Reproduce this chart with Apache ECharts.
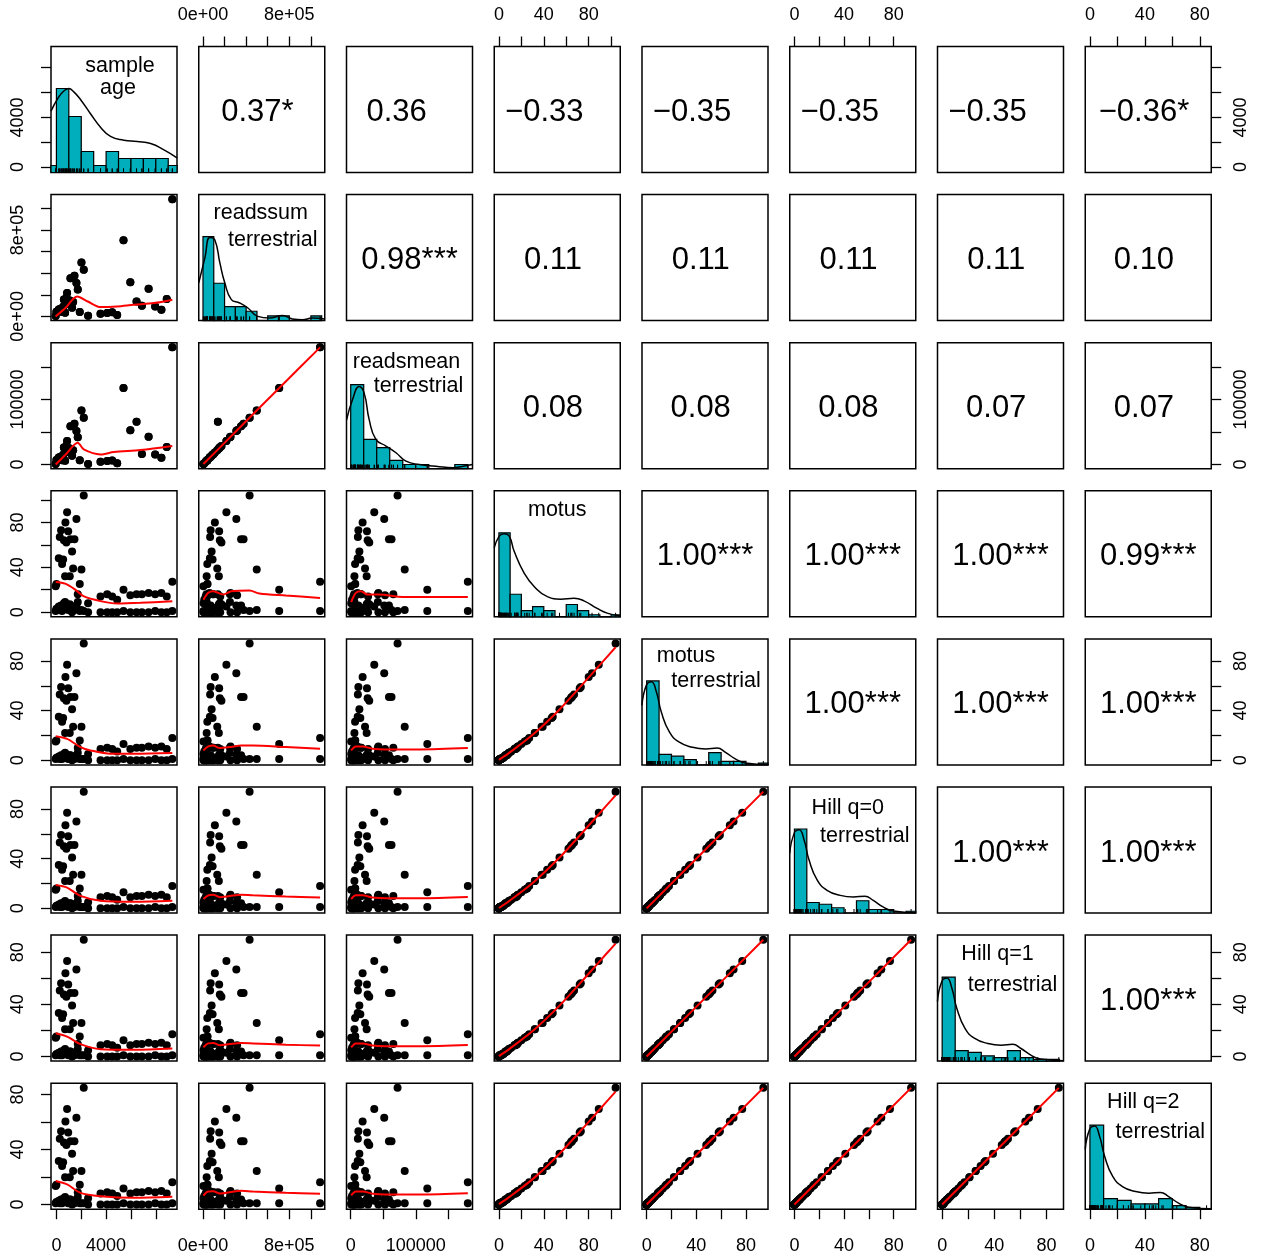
<!DOCTYPE html>
<html>
<head>
<meta charset="utf-8">
<script src="https://cdn.jsdelivr.net/npm/echarts@6/dist/echarts.min.js"></script>
<style>
  html, body { margin: 0; padding: 0; background: #ffffff; }
  #chart { width: 1265px; height: 1254px; }
</style>
</head>
<body>
<div id="chart"></div>
<script>
// ---- sample table: one row per observation ----
const sampleAge = [
  -60, 0, 190, 270, 376, 457, 540, 600, 700, 725, 800, 860, 950, 1075, 1130, 1260, 1345, 1450, 1610, 1720, 1880, 2016, 2200, 2550,
  3550, 4085, 4490, 4890, 5400, 5950, 6450, 6880, 7420, 7950, 8450, 8880, 9330,
  -60, 0, 190, 270, 376, 457, 540, 600, 700, 725, 800, 860, 950, 1075, 1130, 1260, 1345, 1450, 1610, 1720, 1880, 2016, 2200, 2550,
  3550, 4085, 4490, 4890, 5400, 5950, 6450, 6880, 7420, 7950, 8450, 8880, 9330
];
const readssumTerrestrial = [
  4000, 42000, 64000, 66000, 71000, 40000, 89000, 156000, 34000, 110000, 171000, 217000, 150000, 147000, 353000, 80000, 132000, 376000, 309000, 250000, 40000, 498000, 432000, 5000,
  25000, 32000, 38000, 12000, 706000, 316000, 138000, 98000, 255000, 92000, 61000, 160000, 1085000,
  4000, 42000, 64000, 66000, 71000, 40000, 89000, 156000, 34000, 110000, 171000, 217000, 150000, 147000, 353000, 80000, 132000, 376000, 309000, 250000, 40000, 498000, 432000, 5000,
  25000, 32000, 38000, 12000, 706000, 316000, 138000, 98000, 255000, 92000, 61000, 160000, 1085000
];
const readsmeanTerrestrial = [
  700, 7000, 10700, 11000, 11800, 6700, 14800, 26000, 5700, 18300, 28500, 36200, 25000, 24500, 58800, 13300, 22000, 62700, 51500, 41700, 6700, 83000, 72000, 830,
  4200, 5300, 6300, 2000, 117700, 52700, 65500, 16300, 42500, 15300, 10200, 26700, 180000,
  700, 7000, 10700, 11000, 11800, 6700, 14800, 26000, 5700, 18300, 28500, 36200, 25000, 24500, 58800, 13300, 22000, 62700, 51500, 41700, 6700, 83000, 72000, 830,
  4200, 5300, 6300, 2000, 117700, 52700, 65500, 16300, 42500, 15300, 10200, 26700, 180000
];
const motus = [
  23, 25, 48, 67, 73, 43, 47, 64, 32, 80, 62, 89, 72, 32, 65, 54, 39, 65, 83, 16, 25, 38, 104, 8,
  14, 16, 14, 11, 20, 15, 16, 16, 17, 16, 17, 14, 27,
  1, 3, 5, 2, 6, 1, 4, 8, 9, 3, 7, 5, 2, 7, 6, 0, 4, 2, 6, 9, 1, 2, 1, 0,
  0, 0, 0, 0, 1, 0, 0, 0, 0, 1, 0, 0, 1
];
const motusTerrestrial = [
  15, 16, 35, 53, 59, 31, 34, 50, 22, 67, 48, 77, 58, 22, 51, 41, 27, 51, 70, 10, 16, 27, 94, 5,
  9, 10, 9, 7, 13, 9, 10, 10, 11, 10, 11, 9, 18,
  1, 2, 3, 1, 4, 1, 2, 5, 6, 2, 4, 3, 1, 4, 4, 0, 2, 1, 4, 6, 1, 1, 1, 0,
  0, 0, 0, 0, 1, 0, 0, 0, 0, 1, 0, 0, 1
];
const hillQ0 = [
  15, 16, 35, 53, 59, 31, 34, 50, 22, 67, 48, 77, 58, 22, 51, 41, 27, 51, 70, 10, 16, 27, 94, 5,
  9, 10, 9, 7, 13, 9, 10, 10, 11, 10, 11, 9, 18,
  1, 2, 3, 1, 4, 1, 2, 5, 6, 2, 4, 3, 1, 4, 4, 0, 2, 1, 4, 6, 1, 1, 1, 0,
  0, 0, 0, 0, 1, 0, 0, 0, 0, 1, 0, 0, 1
];
const hillQ1 = [
  14.3, 15.2, 33.3, 50.5, 56.2, 29.5, 32.4, 47.6, 20.9, 63.8, 45.7, 73.3, 55.2, 20.9, 48.6, 39.0, 25.7, 48.6, 66.6, 9.5, 15.2, 25.7, 89.5, 4.8,
  8.6, 9.5, 8.6, 6.7, 12.4, 8.6, 9.5, 9.5, 10.5, 9.5, 10.5, 8.6, 17.1,
  1, 1.9, 2.9, 1, 3.8, 1, 1.9, 4.8, 5.7, 1.9, 3.8, 2.9, 1, 3.8, 3.8, 0, 1.9, 1, 3.8, 5.7, 1, 1, 1, 0,
  0, 0, 0, 0, 1, 0, 0, 0, 0, 1, 0, 0, 1
];
const hillQ2 = [
  13.5, 14.4, 31.6, 47.9, 53.3, 28.0, 30.7, 45.2, 19.9, 60.5, 43.3, 69.5, 52.4, 19.9, 46.1, 37.0, 24.4, 46.1, 63.2, 9.0, 14.4, 24.4, 84.9, 4.5,
  8.1, 9.0, 8.1, 6.3, 11.7, 8.1, 9.0, 9.0, 9.9, 9.0, 9.9, 8.1, 16.3,
  1, 1.8, 2.7, 1, 3.6, 1, 1.8, 4.5, 5.4, 1.8, 3.6, 2.7, 1, 3.6, 3.6, 0, 1.8, 1, 3.6, 5.4, 1, 1, 1, 0,
  0, 0, 0, 0, 1, 0, 0, 0, 0, 1, 0, 0, 1
];

// ---- variable names on the diagonal (one entry per text line) ----
const nameSampleAge = ['sample', 'age'];
const nameReadssum = ['readssum', 'terrestrial'];
const nameReadsmean = ['readsmean', 'terrestrial'];
const nameMotus = ['motus'];
const nameMotusTerrestrial = ['motus', 'terrestrial'];
const nameHill0 = ['Hill q=0', 'terrestrial'];
const nameHill1 = ['Hill q=1', 'terrestrial'];
const nameHill2 = ['Hill q=2', 'terrestrial'];

// ---- correlation coefficients with significance stars (upper triangle, by row) ----
const corrRow1 = ['0.37* ', '0.36   ', '\u22120.33   ', '\u22120.35   ', '\u22120.35   ', '\u22120.35   ', '\u22120.36* '];
const corrRow2 = ['0.98***', '0.11 ', '0.11 ', '0.11 ', '0.11 ', '0.10 '];
const corrRow3 = ['0.08 ', '0.08 ', '0.08 ', '0.07 ', '0.07 '];
const corrRow4 = ['1.00***', '1.00***', '1.00***', '0.99***'];
const corrRow5 = ['1.00***', '1.00***', '1.00***'];
const corrRow6 = ['1.00***', '1.00***'];
const corrRow7 = ['1.00***'];

// ---- axis ticks and labelled ticks ----
const ageTicks = [0, 2000, 4000, 6000, 8000];
const ageLabelValues = [0, 4000];
const ageLabelTexts = ['0', '4000'];
const readssumTicks = [0, 200000, 400000, 600000, 800000, 1000000];
const readssumLabelValues = [0, 800000];
const readssumLabelTexts = ['0e+00', '8e+05'];
const readsmeanTicks = [0, 50000, 100000, 150000];
const readsmeanLabelValues = [0, 100000];
const readsmeanLabelTexts = ['0', '100000'];
const motusTicks = [0, 20, 40, 60, 80, 100];
const diversityTicks = [0, 20, 40, 60, 80];
const diversityLabelValues = [0, 40, 80];
const diversityLabelTexts = ['0', '40', '80'];

// ---- histogram counts (first break, bin width, counts per bin) ----
const ageHistStart = -1000, ageHistWidth = 1000;
const ageHistCounts = [2, 24, 16, 6, 2, 6, 4, 4, 4, 4, 2];
const readssumHistStart = 0, readssumHistWidth = 100000;
const readssumHistCounts = [36, 16, 6, 6, 4, 0, 2, 2, 0, 0, 2];
const readsmeanHistStart = 0, readsmeanHistWidth = 20000;
const readsmeanHistCounts = [40, 14, 10, 4, 2, 2, 0, 0, 2];
const motusHistStart = 0, motusHistWidth = 10;
const motusHistCounts = [41, 11, 3, 5, 3, 0, 6, 3, 1, 0, 1];
const motusTHistCounts = [48, 6, 5, 3, 0, 7, 2, 2, 0, 1];
const hill0HistCounts = [48, 6, 5, 3, 0, 7, 2, 2, 0, 1];
const hill1HistCounts = [48, 6, 5, 3, 2, 6, 2, 1, 1];
const hill2HistCounts = [48, 6, 5, 3, 3, 6, 2, 1, 0];

// ---- kernel density curves, scaled so the peak is 1 ----
const ageDensity = [[-436, 0.73], [188, 0.90], [600, 0.97], [995, 1.0], [1400, 0.96], [1935, 0.87], [2742, 0.70], [3548, 0.54], [4355, 0.43], [5430, 0.385], [6505, 0.37], [7580, 0.345], [8656, 0.27], [9706, 0.175]];
const readssumDensity = [[-39000, 0.45], [18000, 0.75], [64000, 0.99], [110000, 0.96], [156000, 0.69], [202000, 0.45], [263000, 0.25], [340000, 0.21], [416000, 0.15], [508000, 0.05], [615000, 0.03], [737000, 0.06], [829000, 0.02], [920000, 0.01], [1013000, 0.03], [1128000, 0.02]];
const readsmeanDensity = [[-6400, 0.58], [2700, 0.82], [13000, 0.98], [20700, 0.90], [28400, 0.585], [38700, 0.35], [54200, 0.27], [69600, 0.19], [85000, 0.09], [105600, 0.05], [131000, 0.03], [157000, 0.01], [172500, 0.03], [187000, 0.05]];
const motusDensity = [[-4.2, 0.82], [0.3, 0.96], [4.7, 0.99], [9.2, 0.96], [13.6, 0.78], [22.5, 0.52], [31.4, 0.36], [43.2, 0.24], [55, 0.21], [66.9, 0.22], [75.8, 0.19], [87.6, 0.10], [96.5, 0.044], [108, 0.01]];
const motusTDensity = [[-3.8, 0.71], [-0.2, 0.95], [3.8, 0.99], [7.8, 0.87], [11.8, 0.63], [18.4, 0.39], [26.3, 0.27], [36.9, 0.21], [47.5, 0.19], [56.8, 0.20], [63.5, 0.15], [71.4, 0.072], [79.4, 0.024], [98, 0.004]];
const hill0Density = [[-3.8, 0.71], [-0.2, 0.95], [3.8, 0.99], [7.8, 0.87], [11.8, 0.63], [18.4, 0.39], [26.3, 0.27], [36.9, 0.21], [47.5, 0.19], [56.8, 0.20], [63.5, 0.15], [71.4, 0.072], [79.4, 0.024], [98, 0.004]];
const hill1Density = [[-3.6, 0.71], [-0.2, 0.95], [3.6, 0.99], [7.4, 0.87], [11.2, 0.63], [17.5, 0.39], [25.0, 0.27], [35.1, 0.21], [45.2, 0.19], [54.1, 0.20], [60.5, 0.15], [68.0, 0.072], [75.6, 0.024], [93, 0.004]];
const hill2Density = [[-3.4, 0.71], [-0.2, 0.95], [3.4, 0.99], [7.0, 0.87], [10.7, 0.63], [16.6, 0.39], [23.7, 0.27], [33.3, 0.21], [42.9, 0.19], [51.3, 0.20], [57.3, 0.15], [64.5, 0.072], [71.7, 0.024], [88, 0.004]];

// ---- lowess smoothers for the lower panels ----
const smoothAgeReadssum = [[-60, 0], [726, 77000], [1667, 184000], [2527, 138000], [3548, 86000], [4892, 92000], [6236, 108000], [7849, 123000], [9330, 154000]];
const smoothAgeReadsmean = [[-60, 0], [726, 15000], [1720, 33500], [2200, 23200], [3548, 15500], [4624, 19100], [6774, 22200], [9330, 28400]];
const smoothAgeMotus = [[-60, 26.9], [700, 25.4], [1505, 20.1], [2177, 14.2], [3548, 9.8], [4892, 7.7], [6774, 8.3], [9330, 9.8]];
const smoothAgeMotusT = [[-60, 19.3], [860, 17.2], [1935, 10.6], [2742, 7.9], [4355, 5.3], [6237, 5.3], [9330, 5.9]];
const smoothAgeHill0 = [[-60, 18.8], [860, 16.7], [1935, 10.0], [3548, 6.1], [6237, 5.3], [9330, 6.1]];
const smoothAgeHill1 = [[-60, 17.8], [860, 15.2], [1935, 9.4], [3548, 5.6], [6237, 5.1], [9330, 6.1]];
const smoothAgeHill2 = [[-60, 17.1], [860, 14.6], [1935, 8.5], [3548, 6.1], [6237, 4.9], [9330, 5.6]];
const smoothReadssumReadsmean = [[4000, 700], [300000, 50000], [700000, 116500], [1085000, 180000]];
const smoothReadssumMotus = [[4000, 11], [49000, 17.2], [95000, 18.6], [187000, 15.7], [263000, 18.6], [431000, 19.2], [523000, 16.6], [768000, 14.8], [1085000, 12.7]];
const smoothReadssumMotusT = [[4000, 7.9], [49000, 11.1], [95000, 11.9], [156000, 9.8], [248000, 10.6], [355000, 11.9], [462000, 11.9], [768000, 10.6], [1085000, 9.3]];
const smoothReadssumHill0 = [[4000, 7.5], [49000, 10.5], [95000, 11.0], [156000, 9.0], [248000, 10.0], [355000, 11.0], [462000, 10.5], [768000, 9.5], [1085000, 8.8]];
const smoothReadssumHill1 = [[4000, 7.0], [49000, 10.0], [95000, 10.3], [156000, 8.5], [248000, 9.5], [355000, 10.3], [462000, 10.0], [768000, 9.0], [1085000, 8.3]];
const smoothReadssumHill2 = [[4000, 6.5], [49000, 9.5], [95000, 9.6], [156000, 8.0], [248000, 9.0], [355000, 10.0], [462000, 9.5], [768000, 8.5], [1085000, 7.8]];
const smoothReadsmeanMotus = [[700, 8.9], [7900, 17.2], [15600, 18.6], [25900, 15.7], [43900, 15.7], [80000, 13.6], [131000, 13.6], [180000, 13.6]];
const smoothReadsmeanMotusT = [[700, 7.9], [7900, 11.1], [18200, 11.1], [33600, 9.3], [54200, 8.7], [105600, 8.7], [180000, 9.8]];
const smoothReadsmeanHill0 = [[700, 7.5], [7900, 10.5], [18200, 10.5], [33600, 8.8], [54200, 8.2], [105600, 8.2], [180000, 9.2]];
const smoothReadsmeanHill1 = [[700, 7.0], [7900, 10.0], [18200, 10.0], [33600, 8.3], [54200, 7.8], [105600, 7.8], [180000, 8.7]];
const smoothReadsmeanHill2 = [[700, 6.6], [7900, 9.4], [18200, 9.5], [33600, 7.9], [54200, 7.3], [105600, 7.3], [180000, 8.2]];
const smoothMotusMotusT = [[0, 0.3], [10, 6.5], [31.4, 21.5], [53.6, 40.5], [72.9, 59.5], [89.2, 76], [104, 91]];
const smoothMotusHill0 = [[0, 0.3], [10, 6.5], [31.4, 21.5], [53.6, 40.5], [72.9, 59.5], [89.2, 76], [104, 91]];
const smoothMotusHill1 = [[0, 0.3], [10, 6.2], [31.4, 20.5], [53.6, 38.6], [72.9, 56.6], [89.2, 72.4], [104, 86.6]];
const smoothMotusHill2 = [[0, 0.3], [10, 5.9], [31.4, 19.4], [53.6, 36.6], [72.9, 53.7], [89.2, 68.6], [104, 82.2]];
const smoothMotusTHill0 = [[0, 0], [47, 47], [94, 94]];
const smoothMotusTHill1 = [[0, 0], [47, 44.7], [94, 89.5]];
const smoothMotusTHill2 = [[0, 0], [47, 42.4], [94, 84.9]];
const smoothHill0Hill1 = [[0, 0], [47, 44.7], [94, 89.5]];
const smoothHill0Hill2 = [[0, 0], [47, 42.4], [94, 84.9]];
const smoothHill1Hill2 = [[0, 0], [44.7, 42.4], [89.5, 84.9]];

// ---- assemble the panel tables ----
const variables = [sampleAge, readssumTerrestrial, readsmeanTerrestrial, motus, motusTerrestrial, hillQ0, hillQ1, hillQ2];
const names = [nameSampleAge, nameReadssum, nameReadsmean, nameMotus, nameMotusTerrestrial, nameHill0, nameHill1, nameHill2];
const corrRows = [corrRow1, corrRow2, corrRow3, corrRow4, corrRow5, corrRow6, corrRow7];
const tickSets = [ageTicks, readssumTicks, readsmeanTicks, motusTicks, diversityTicks, diversityTicks, diversityTicks, diversityTicks];
const labelValueSets = [ageLabelValues, readssumLabelValues, readsmeanLabelValues, diversityLabelValues, diversityLabelValues, diversityLabelValues, diversityLabelValues, diversityLabelValues];
const labelTextSets = [ageLabelTexts, readssumLabelTexts, readsmeanLabelTexts, diversityLabelTexts, diversityLabelTexts, diversityLabelTexts, diversityLabelTexts, diversityLabelTexts];
const histStarts = [ageHistStart, readssumHistStart, readsmeanHistStart, motusHistStart, motusHistStart, motusHistStart, motusHistStart, motusHistStart];
const histWidths = [ageHistWidth, readssumHistWidth, readsmeanHistWidth, motusHistWidth, motusHistWidth, motusHistWidth, motusHistWidth, motusHistWidth];
const histCounts = [ageHistCounts, readssumHistCounts, readsmeanHistCounts, motusHistCounts, motusTHistCounts, hill0HistCounts, hill1HistCounts, hill2HistCounts];
const densities = [ageDensity, readssumDensity, readsmeanDensity, motusDensity, motusTDensity, hill0Density, hill1Density, hill2Density];
const smoothers = {
  '1-0': smoothAgeReadssum, '2-0': smoothAgeReadsmean, '3-0': smoothAgeMotus, '4-0': smoothAgeMotusT,
  '5-0': smoothAgeHill0, '6-0': smoothAgeHill1, '7-0': smoothAgeHill2,
  '2-1': smoothReadssumReadsmean, '3-1': smoothReadssumMotus, '4-1': smoothReadssumMotusT,
  '5-1': smoothReadssumHill0, '6-1': smoothReadssumHill1, '7-1': smoothReadssumHill2,
  '3-2': smoothReadsmeanMotus, '4-2': smoothReadsmeanMotusT, '5-2': smoothReadsmeanHill0,
  '6-2': smoothReadsmeanHill1, '7-2': smoothReadsmeanHill2,
  '4-3': smoothMotusMotusT, '5-3': smoothMotusHill0, '6-3': smoothMotusHill1, '7-3': smoothMotusHill2,
  '5-4': smoothMotusTHill0, '6-4': smoothMotusTHill1, '7-4': smoothMotusTHill2,
  '6-5': smoothHill0Hill1, '7-5': smoothHill0Hill2, '7-6': smoothHill1Hill2
};
// diagonal label line centres, relative to the panel's top-left corner
const nameOffsets = [
  [[69, 20], [67, 42]], [[62, 18], [74, 45]], [[60, 19], [72, 43]], [[63, 19]],
  [[44, 17], [74, 42]], [[58, 21], [75, 49]], [[60, 19], [75, 50]], [[58, 19], [75, 49]]
];

// ---- layout ----
const FONT = '"Liberation Sans", Arial, Helvetica, sans-serif';
const N = 8;
const LEFT0 = 51, TOP0 = 46.5, PW = 126, PH = 126, STEP_X = 147.75, STEP_Y = 148.1;
const TEAL = '#00AFBB';

// plotting range of a variable: data range widened by 4% on each side
function paddedRange(values) {
  const lo = Math.min(...values), hi = Math.max(...values), d = hi - lo;
  return [lo - 0.04 * d, hi + 0.04 * d];
}
const ranges = variables.map(paddedRange);

function valueAxis(gridIndex, v, position, isY) {
  const shown = !!position;
  const rng = ranges[v];
  const lv = labelValueSets[v], lt = labelTextSets[v];
  return {
    gridIndex: gridIndex, type: 'value', min: rng[0], max: rng[1],
    position: position || (isY ? 'left' : 'bottom'),
    axisLine: { show: false, onZero: false },
    splitLine: { show: false },
    axisTick: { show: shown, inside: false, length: 10, customValues: tickSets[v], lineStyle: { color: '#000', width: 1.3 } },
    axisLabel: {
      show: shown, customValues: lv, color: '#000', fontSize: 18, fontFamily: FONT,
      rotate: isY ? 90 : 0,
      margin: isY ? (position === 'right' ? 21 : 24) : (position === 'top' ? 22 : 28),
      formatter: function (val) { const idx = lv.indexOf(val); return idx >= 0 ? lt[idx] : ''; }
    }
  };
}

function renderHistBar(params, api) {
  const x0 = api.value(0), x1 = api.value(1), h = api.value(2);
  const p0 = api.coord([x0, 0]);
  const p1 = api.coord([x1, h]);
  const cs = params.coordSys;
  const rect = echarts.graphic.clipRectByRect(
    { x: p0[0], y: p1[1], width: p1[0] - p0[0], height: p0[1] - p1[1] },
    { x: cs.x, y: cs.y, width: cs.width, height: cs.height }
  );
  if (!rect) return null;
  return { type: 'rect', shape: rect, style: { fill: TEAL, stroke: '#000', lineWidth: 1.2 } };
}

const grids = [], xAxes = [], yAxes = [], series = [], texts = [];

for (let i = 0; i < N; i++) {
  for (let j = 0; j < N; j++) {
    const k = grids.length;
    const left = LEFT0 + j * STEP_X, top = TOP0 + i * STEP_Y;
    grids.push({
      left: left, top: top, width: PW, height: PH, show: true,
      borderColor: '#000', borderWidth: 1.5, backgroundColor: 'rgba(0,0,0,0)',
      containLabel: false, outerBoundsMode: 'none'
    });
    const xPos = i === N - 1 ? 'bottom' : (i === 0 && j % 2 === 1 ? 'top' : null);
    const xIndex = xAxes.length;
    xAxes.push(valueAxis(k, j, xPos, false));
    const yPos = j === 0 ? 'left' : (j === N - 1 && i % 2 === 0 ? 'right' : null);
    const yIndex = yAxes.length;
    yAxes.push(valueAxis(k, i, yPos, true));

    if (i > j) {
      // scatter + lowess smoother
      const xs = variables[j], ys = variables[i];
      series.push({
        type: 'scatter', xAxisIndex: xIndex, yAxisIndex: yIndex, silent: true, z: 2,
        symbolSize: 8, itemStyle: { color: '#000', opacity: 1 },
        data: xs.map(function (x, n) { return [x, ys[n]]; })
      });
      series.push({
        type: 'line', xAxisIndex: xIndex, yAxisIndex: yIndex, silent: true, z: 3,
        showSymbol: false, smooth: 0.3, lineStyle: { color: '#ff0000', width: 2 },
        data: smoothers[i + '-' + j]
      });
    } else if (i === j) {
      // histogram scaled to a 0..1.5 frame, density curve and rug
      const hIndex = yAxes.length;
      yAxes.push({ gridIndex: k, type: 'value', min: 0, max: 1.5, show: false });
      const counts = histCounts[i];
      const maxCount = Math.max(...counts);
      const bars = counts.map(function (c, b) {
        const s = histStarts[i] + b * histWidths[i];
        return [s, s + histWidths[i], c / maxCount];
      });
      series.push({
        type: 'custom', xAxisIndex: xIndex, yAxisIndex: hIndex, silent: true, z: 2,
        renderItem: renderHistBar, data: bars, encode: { x: [0, 1], y: 2 }
      });
      series.push({
        type: 'line', xAxisIndex: xIndex, yAxisIndex: hIndex, silent: true, z: 3,
        showSymbol: false, smooth: true, lineStyle: { color: '#000', width: 1.5 },
        data: densities[i]
      });
      series.push({
        type: 'scatter', xAxisIndex: xIndex, yAxisIndex: hIndex, silent: true, z: 4,
        symbol: 'rect', symbolSize: [1, 4], symbolOffset: [0, -2], itemStyle: { color: '#000', opacity: 1 },
        data: variables[i].map(function (v) { return [v, 0]; })
      });
      names[i].forEach(function (line, li) {
        const off = nameOffsets[i][li];
        texts.push({
          type: 'text', x: left + off[0], y: top + off[1], silent: true, z: 10,
          style: { text: line, fill: '#000', fontSize: 21.5, fontFamily: FONT, textAlign: 'center', textVerticalAlign: 'middle' }
        });
      });
    } else {
      texts.push({
        type: 'text', x: left + PW / 2, y: top + PH / 2 + 3, silent: true, z: 10,
        style: { text: corrRows[i][j - i - 1], fill: '#000', fontSize: 31, fontFamily: FONT, textAlign: 'center', textVerticalAlign: 'middle' }
      });
    }
  }
}

const chart = echarts.init(document.getElementById('chart'), null, { renderer: 'canvas' });
chart.setOption({
  animation: false,
  backgroundColor: '#ffffff',
  grid: grids,
  xAxis: xAxes,
  yAxis: yAxes,
  series: series,
  graphic: { elements: texts }
});
</script>
</body>
</html>
